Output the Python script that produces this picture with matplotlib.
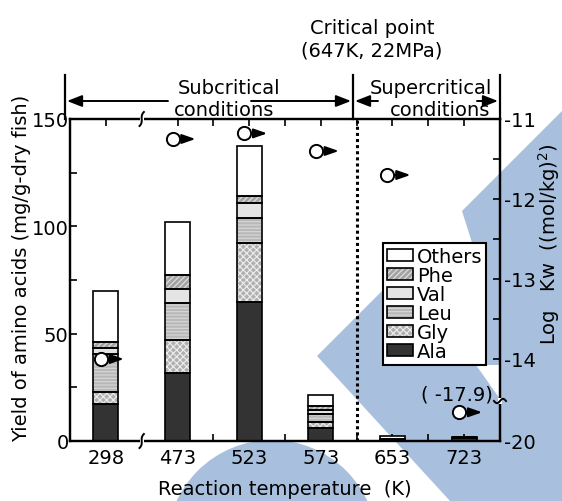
import numpy as np
import matplotlib
matplotlib.use('Agg')
import matplotlib.pyplot as plt
from matplotlib.patches import Polygon, Ellipse, Patch, FancyArrowPatch, Rectangle
from matplotlib.lines import Line2D
from matplotlib.transforms import offset_copy

# ---------------- data ----------------
temps = ['298', '473', '523', '573', '653', '723']
ala = [17.2, 31.5, 64.6, 5.9, 0.3, 1.5]
gly = [5.8, 15.5, 27.8, 2.8, 0.1, 0.1]
leu = [17.5, 17.1, 11.5, 3.9, 0.1, 0.1]
val = [2.8, 6.7, 7.1, 1.9, 0.1, 0.05]
phe = [2.9, 6.7, 3.3, 2.0, 0.1, 0.05]
others = [23.8, 24.4, 22.9, 4.9, 1.8, 0.2]
log_kw = [-14.0, -11.25, -11.18, -11.40, -11.70, -17.9]
series_names = ['Ala', 'Gly', 'Leu', 'Val', 'Phe', 'Others']

plt.rcParams['font.family'] = ['DejaVu Sans']
plt.rcParams['hatch.linewidth'] = 0.8
FS = 14

W, H = 562, 502
fig = plt.figure(figsize=(W / 100, H / 100), dpi=100)
fig.patch.set_facecolor('white')

def fx(px):
    return px / W

def fy(py):
    return 1 - py / H

# ---------------- watermark (background decoration) ----------------
BLUE = '#a8c0de'
main_poly = [(317, 357), (424, 250), (474, 250), (462, 212), (562, 112),
             (562, 502), (450, 502)]
fig.add_artist(Polygon([(fx(a), fy(b)) for a, b in main_poly], closed=True,
                       transform=fig.transFigure, facecolor=BLUE,
                       edgecolor='none', zorder=-5))
notch = [(476, 366), (500, 366), (500, 400)]
fig.add_artist(Polygon([(fx(a), fy(b)) for a, b in notch], closed=True,
                       transform=fig.transFigure, facecolor='white',
                       edgecolor='none', zorder=-4))
r = 105
fig.add_artist(Ellipse((fx(272), fy(546)), 2 * r / W, 2 * r / H,
                       transform=fig.transFigure, facecolor=BLUE,
                       edgecolor='none', zorder=-5))

# ---------------- axes ----------------
ax = fig.add_axes([fx(70), fy(442), 430 / W, 322 / H])
ax.set_facecolor('none')
x = np.arange(len(temps))

styles = {
    'Ala': dict(face='#333333', hatch=None, hc='#333333'),
    'Gly': dict(face='#b0b0b0', hatch='xxxxx', hc='#eeeeee'),
    'Leu': dict(face='#b8b8b8', hatch='-----', hc='#d8d8d8'),
    'Val': dict(face='#e4e4e4', hatch=None, hc='#e4e4e4'),
    'Phe': dict(face='#a4a4a4', hatch='//////', hc='#e2e2e2'),
    'Others': dict(face='white', hatch=None, hc='white'),
}
data = {'Ala': ala, 'Gly': gly, 'Leu': leu, 'Val': val, 'Phe': phe, 'Others': others}
bw = 0.35
bottom = np.zeros(len(temps))
for name in series_names:
    vals = np.array(data[name])
    st = styles[name]
    ax.bar(x, vals, width=bw, bottom=bottom, color=st['face'], hatch=st['hatch'],
           edgecolor=st['hc'], linewidth=0, zorder=2)
    ax.bar(x, vals, width=bw, bottom=bottom, fill=False, edgecolor='black',
           linewidth=1.2, zorder=3)
    bottom += vals

ax.set_xlim(-0.5, 5.5)
ax.set_ylim(0, 150)
ax.set_xticks(x)
ax.set_xticklabels(temps, fontsize=FS)
ax.set_xticks([1.5, 2.5, 3.5, 4.5], minor=True)
ax.set_yticks([0, 50, 100, 150])
ax.set_yticklabels(['0', '50', '100', '150'], fontsize=FS)
ax.set_yticks([25, 75, 125], minor=True)
ax.tick_params(axis='x', which='both', direction='in', top=True, bottom=True,
               length=5, width=1.2, pad=5)
ax.tick_params(axis='y', which='both', direction='in', left=True, right=False,
               length=5, width=1.2, pad=1)
for s in ax.spines.values():
    s.set_linewidth(1.6)

ax.axvline(3.5, color='black', lw=2.2, ls=(0, (1.0, 1.0)), zorder=4)

ax.set_xlabel('Reaction temperature  (K)', fontsize=FS, labelpad=9)
ax.set_ylabel('Yield of amino acids (mg/g-dry fish)', fontsize=FS, labelpad=0)
ax.yaxis.label.set_y(0.54)

# ---------------- right axis (broken Log Kw) ----------------
ax2 = ax.twinx()
k = 1.025 / 6.0

def fwd(v):
    v = np.asarray(v, dtype=float)
    return np.where(v >= -14, v, -14 + (v + 14) * k)

def inv(u):
    u = np.asarray(u, dtype=float)
    return np.where(u >= -14, u, -14 + (u + 14) / k)

ax2.set_yscale('function', functions=(fwd, inv))
ax2.set_ylim(-20, -11)
ax2.set_yticks([-20, -14, -13, -12, -11])
ax2.set_yticklabels(['-20', '-14', '-13', '-12', '-11'], fontsize=FS)
ax2.set_yticks([-13.5, -12.5, -11.5], minor=True)
ax2.yaxis.set_minor_formatter(matplotlib.ticker.NullFormatter())
ax2.tick_params(axis='y', which='both', direction='in', length=5, width=1.2, pad=3)
for s in ax2.spines.values():
    s.set_linewidth(1.6)
ax2.set_ylabel('Log   Kw  ((mol/kg)$^{2}$)', fontsize=FS, labelpad=0)
ax2.yaxis.label.set_y(0.615)

circ_tr = offset_copy(ax2.transData, fig=fig, x=-5, y=0, units='dots')
tail_tr = offset_copy(ax2.transData, fig=fig, x=1, y=0, units='dots')
tip_tr = offset_copy(ax2.transData, fig=fig, x=18, y=0, units='dots')
for xi, kw in zip(x, log_kw):
    ax2.annotate('', xy=(xi, kw), xycoords=tip_tr, xytext=(xi, kw),
                 textcoords=tail_tr,
                 arrowprops=dict(arrowstyle='-|>,head_length=0.8,head_width=0.28',
                                 color='black', lw=1.5, shrinkA=0, shrinkB=0,
                                 mutation_scale=10), zorder=6)
    ax2.plot([xi], [kw], 'o', transform=circ_tr, ms=9.5, mfc='white', mec='black',
             mew=1.4, zorder=7, clip_on=False)

ax2.text(fx(493), fy(395), '( -17.9)', transform=fig.transFigure, ha='right',
         va='center', fontsize=FS)

# legend
handles = []
for name in series_names[::-1]:
    st = styles[name]
    handles.append((Patch(facecolor=st['face'], hatch=st['hatch'], edgecolor=st['hc'], lw=0),
                    Patch(facecolor='none', edgecolor='black', lw=1.2)))
leg = ax2.legend(handles, series_names[::-1], loc='upper left',
                 bbox_to_anchor=(fx(383), fy(244)), bbox_transform=fig.transFigure,
                 fontsize=FS, frameon=True, fancybox=False, framealpha=1,
                 borderpad=0.2, labelspacing=0.0, handlelength=1.35,
                 handleheight=0.6, handletextpad=0.2, borderaxespad=0)
leg.get_frame().set_edgecolor('black')
leg.get_frame().set_linewidth(1.5)

# ---------------- break marks ----------------
def squiggle_vertical(px, py):
    fig.add_artist(Rectangle((fx(px - 2), fy(py + 3)), 4 / W, 6 / H,
                             transform=fig.transFigure, facecolor='white',
                             edgecolor='none', zorder=8))
    t = np.linspace(-1, 1, 30)
    xs = px + 2.5 * t ** 3 - 0.3 * t
    ys = py - 7 * t
    fig.add_artist(Line2D(fx(xs), fy(ys), transform=fig.transFigure,
                          color='black', lw=1.4, zorder=9))

squiggle_vertical(141.7, 120)
squiggle_vertical(141.7, 442)

def squiggle_horizontal(px, py):
    fig.add_artist(Rectangle((fx(px - 2), fy(py + 3)), 4 / W, 6 / H,
                             transform=fig.transFigure, facecolor='white',
                             edgecolor='none', zorder=8))
    t = np.linspace(-1, 1, 30)
    xs = px + 6 * t
    ys = py - 2.2 * np.sin(np.pi * t)
    fig.add_artist(Line2D(fx(xs), fy(ys), transform=fig.transFigure,
                          color='black', lw=1.4, zorder=9))

squiggle_horizontal(500, 402)

# ---------------- top annotations ----------------
for xb in (65, 353, 500):
    fig.add_artist(Line2D([fx(xb), fx(xb)], [fy(76), fy(120)], transform=fig.transFigure,
                          color='black', lw=1.6))

def farrow(x0, x1, y):
    fig.add_artist(FancyArrowPatch((fx(x0), fy(y)), (fx(x1), fy(y)),
                                   transform=fig.transFigure,
                                   arrowstyle='-|>,head_length=0.9,head_width=0.35',
                                   mutation_scale=10, color='black', lw=1.4,
                                   shrinkA=0, shrinkB=0))

farrow(168, 67, 102)
farrow(251, 351, 102)
farrow(378, 355, 102)
farrow(477, 498, 102)

fig.text(fx(229), fy(89), 'Subcritical', ha='center', va='center', fontsize=FS)
fig.text(fx(224), fy(111), 'conditions', ha='center', va='center', fontsize=FS)
fig.text(fx(431), fy(89), 'Supercritical', ha='center', va='center', fontsize=FS)
fig.text(fx(440), fy(111), 'conditions', ha='center', va='center', fontsize=FS)
fig.text(fx(372), fy(28), 'Critical point', ha='center', va='center', fontsize=FS)
fig.text(fx(372), fy(51), '(647K, 22MPa)', ha='center', va='center', fontsize=FS)

fig.savefig('out.png', dpi=100)
